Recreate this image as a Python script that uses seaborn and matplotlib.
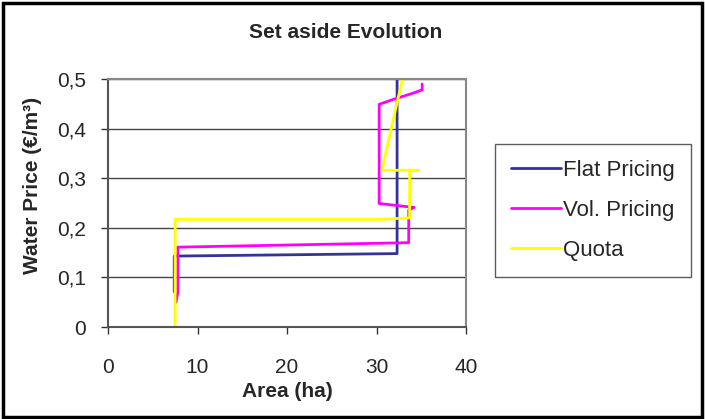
import matplotlib
matplotlib.use("Agg")
import matplotlib.pyplot as plt
import seaborn as sns
import pandas as pd
from matplotlib.patches import Rectangle

# Data
flat_x = [7.4, 7.4, 32.3, 32.3]
flat_y = [0.071, 0.143, 0.148, 0.5]

vol_x = [7.6, 7.8, 7.8, 33.6, 33.6, 34.2, 30.3, 30.3, 31.9, 34.0, 35.1, 35.1]
vol_y = [0.05, 0.07, 0.161, 0.170, 0.236, 0.241, 0.249, 0.449, 0.459, 0.471, 0.478, 0.490]

quota_x = [7.5, 7.5, 30.4, 33.7, 33.7, 34.7, 30.6, 32.9]
quota_y = [0.0, 0.217, 0.217, 0.220, 0.316, 0.316, 0.316, 0.5]

series_names = ["Flat Pricing", "Vol. Pricing", "Quota"]
series_colors = ["#333399", "#FF00FF", "#FFFF00"]

x_ticks = [0, 10, 20, 30, 40]
y_ticks = [0, 0.1, 0.2, 0.3, 0.4, 0.5]
y_tick_labels = ["0", "0,1", "0,2", "0,3", "0,4", "0,5"]

frames = []
for name, xs, ys in zip(series_names, [flat_x, vol_x, quota_x], [flat_y, vol_y, quota_y]):
    frames.append(pd.DataFrame({"Area": xs, "Price": ys, "Series": name}))
df = pd.concat(frames, ignore_index=True)

sns.set_style("white")
plt.rcParams["font.family"] = ["Liberation Sans", "DejaVu Sans"]

fig = plt.figure(figsize=(7.05, 4.19), dpi=100)
ax = fig.add_axes([108 / 705, 1 - 327 / 419, 358 / 705, 248 / 419])

sns.lineplot(data=df, x="Area", y="Price", hue="Series", hue_order=series_names,
             palette=series_colors, sort=False, estimator=None, units="Series",
             linewidth=2, ax=ax, legend=True)

ax.set_xlim(0, 40)
ax.set_ylim(0, 0.5)
ax.set_xticks(x_ticks)
ax.set_xticklabels([str(t) for t in x_ticks])
ax.set_yticks(y_ticks)
ax.set_yticklabels(y_tick_labels)
ax.tick_params(axis="both", labelsize=15, length=5, width=1, color="#333333",
               direction="out", left=True, bottom=True)
ax.tick_params(axis="y", pad=11)
ax.tick_params(axis="x", pad=17)

ax.yaxis.grid(True, color="#444444", linewidth=1)
ax.xaxis.grid(False)
ax.set_axisbelow(True)
for side in ["left", "bottom"]:
    ax.spines[side].set_color("#555555")
    ax.spines[side].set_linewidth(1.5)
ax.spines["right"].set_color("#888888")
ax.spines["right"].set_linewidth(1.5)
ax.spines["top"].set_color("#888888")
ax.spines["top"].set_linewidth(1.5)

ax.set_xlabel("Area (ha)", fontsize=15, fontweight="bold", labelpad=4)
ax.set_ylabel("Water Price (€/m³)", fontsize=15, fontweight="bold")
ax.yaxis.set_label_coords(-0.185, 0.57)

fig.text(346 / 705, 1 - 32 / 419, "Set aside Evolution", ha="center", va="center",
         fontsize=15, fontweight="bold")

handles, labels = ax.get_legend_handles_labels()
ax.legend_.remove()
leg = fig.legend(handles, labels, loc="upper left",
                 bbox_to_anchor=(495 / 705, 1 - 144 / 419), fontsize=16,
                 frameon=True, fancybox=False, edgecolor="#333333",
                 handlelength=2.25, handletextpad=0.1, labelspacing=0.85,
                 borderpad=0.72, borderaxespad=0)
leg.get_frame().set_linewidth(1)
for line in leg.get_lines():
    line.set_linewidth(2)

fig.patches.append(Rectangle((3 / 705, 2 / 419), 699 / 705, 414 / 419,
                             transform=fig.transFigure, fill=False,
                             edgecolor="black", linewidth=2.5))

fig.savefig("out.png", dpi=100)
